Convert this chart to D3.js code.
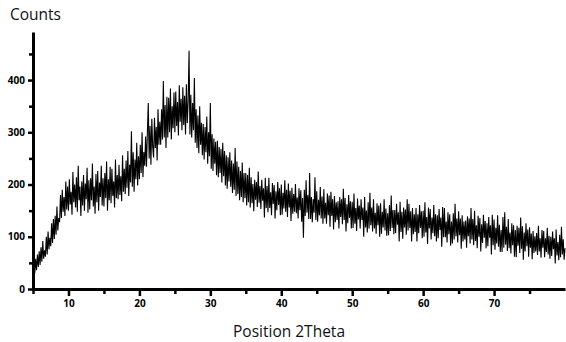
<!DOCTYPE html>
<html>
<head>
<meta charset="utf-8">
<script src="https://cdn.jsdelivr.net/npm/d3@7/dist/d3.min.js"></script>
<style>
  html, body { margin: 0; padding: 0; background: #fff; }
  svg { display: block; }
  .axis path, .axis line { stroke: #000; }
  .axis text { font-family: "Open Sans", sans-serif; font-weight: bold; font-size: 10px; fill: #000; }
  .title { font-family: "Open Sans", sans-serif; font-size: 15.5px; fill: #111; }
</style>
</head>
<body>
<div id="chart"></div>
<script>
const startAngle = 5.25;
const stepSize = 0.125;
const counts = [
  30, 58, 36, 66, 42, 72,                     // 5
  46, 80, 52, 92, 58, 74, 62, 100,            // 6
  66, 110, 76, 98, 82, 126, 88, 134,          // 7
  96, 140, 104, 158, 112, 136, 128, 180,      // 8
  136, 190, 148, 176, 140, 206, 152, 196,     // 9
  150, 210, 162, 186, 142, 224, 166, 200,     // 10
  156, 214, 148, 236, 170, 196, 140, 206,     // 11
  160, 218, 150, 202, 172, 232, 146, 208,     // 12
  152, 212, 170, 240, 158, 196, 144, 220,     // 13
  166, 226, 150, 204, 176, 236, 160, 212,     // 14
  158, 222, 174, 244, 150, 210, 170, 234,     // 15
  164, 230, 178, 206, 156, 248, 174, 218,     // 16
  172, 238, 180, 216, 168, 256, 186, 230,     // 17
  182, 246, 194, 264, 178, 238, 204, 302,     // 18
  196, 262, 186, 248, 210, 280, 198, 254,     // 19
  210, 276, 222, 300, 214, 262, 236, 292,     // 20
  234, 300, 356, 250, 312, 238, 326, 272,     // 21
  252, 328, 270, 310, 246, 344, 276, 320,     // 22
  276, 344, 286, 398, 290, 352, 270, 368,     // 23
  290, 366, 300, 384, 286, 350, 308, 376,     // 24
  300, 378, 312, 358, 294, 390, 320, 364,     // 25
  304, 386, 314, 370, 296, 392, 318, 360,     // 26
  456, 296, 372, 290, 356, 304, 404, 280,     // 27
  344, 270, 332, 260, 350, 276, 318, 256,     // 28
  316, 248, 310, 262, 330, 240, 300, 254,     // 29
  356, 230, 296, 226, 288, 240, 282, 218,     // 30
  284, 214, 272, 222, 268, 204, 280, 216,     // 31
  264, 198, 256, 192, 252, 206, 262, 196,     // 32
  246, 184, 240, 190, 270, 178, 244, 182,     // 33
  234, 170, 226, 176, 242, 166, 222, 174,     // 34
  222, 160, 218, 166, 232, 156, 214, 164,     // 35
  201, 149, 209, 171, 205, 157, 225, 165,     // 36
  197, 153, 209, 169, 193, 137, 213, 155,     // 37
  197, 147, 213, 155, 185, 141, 203, 163,     // 38
  199, 135, 187, 151, 205, 161, 193, 141,     // 39
  200, 142, 184, 154, 208, 148, 190, 138,     // 40
  202, 156, 188, 130, 194, 144, 182, 148,     // 41
  201, 145, 175, 135, 193, 151, 189, 129,     // 42
  174, 98, 190, 140, 208, 146, 180, 134,      // 43
  222, 134, 176, 128, 172, 146, 214, 132,     // 44
  187, 129, 171, 141, 195, 135, 177, 125,     // 45
  191, 135, 165, 125, 183, 141, 179, 119,     // 46
  186, 140, 172, 114, 178, 128, 166, 132,     // 47
  168, 116, 176, 138, 172, 124, 192, 132,     // 48
  174, 110, 162, 126, 180, 136, 168, 116,     // 49
  167, 117, 183, 125, 155, 111, 173, 133,     // 50
  160, 116, 172, 132, 156, 100, 176, 118,     // 51
  150, 108, 166, 116, 184, 122, 156, 110,     // 52
  172, 116, 146, 106, 164, 122, 160, 100,     // 53
  164, 106, 148, 118, 172, 112, 154, 102,     // 54
  145, 103, 161, 111, 179, 117, 151, 105,     // 55
  151, 107, 163, 123, 147, 91, 167, 109,      // 56
  148, 96, 156, 118, 152, 104, 172, 112,      // 57
  163, 117, 149, 91, 155, 105, 143, 109,      // 58
  155, 91, 143, 107, 161, 117, 149, 97,       // 59
  150, 100, 166, 108, 138, 86, 156, 116,      // 60
  153, 95, 137, 107, 161, 101, 143, 91,       // 61
  141, 97, 153, 113, 137, 81, 157, 99,        // 62
  155, 99, 129, 89, 147, 105, 143, 83,        // 63
  129, 87, 145, 95, 163, 101, 135, 89,        // 64
  149, 103, 135, 77, 141, 91, 129, 95,        // 65
  131, 79, 139, 101, 135, 87, 155, 95,        // 66
  134, 84, 150, 92, 122, 78, 140, 100,        // 67
  136, 72, 124, 88, 142, 98, 130, 78,         // 68
  126, 82, 138, 98, 122, 66, 142, 84,         // 69
  133, 75, 117, 87, 141, 81, 123, 71,         // 70
  113, 71, 138, 79, 147, 85, 119, 73,         // 71
  134, 78, 108, 68, 126, 84, 122, 62,         // 72
  113, 61, 121, 83, 117, 69, 137, 77,         // 73
  120, 56, 108, 72, 126, 82, 114, 62,         // 74
  118, 79, 106, 57, 111, 69, 101, 72,         // 75
  107, 65, 121, 72, 97, 60, 113, 79,          // 76
  111, 61, 97, 71, 117, 66, 102, 58,          // 77
  100, 63, 110, 76, 97, 49, 114, 64,          // 78
  90, 55, 104, 61, 119, 66, 95, 56,           // 79
  78                                          // 80
];
const xTicks = [10, 20, 30, 40, 50, 60, 70];
const xMinorTicks = [5, 15, 25, 35, 45, 55, 65, 75];
const yTicks = [0, 100, 200, 300, 400];
const yMinorTicks = [50, 150, 250, 350, 450];
const xTitle = 'Position 2Theta';
const yTitle = 'Counts';

const width = 566;
const height = 342;

const svg = d3.select('#chart')
  .append('svg')
  .attr('width', width)
  .attr('height', height);

const x = d3.scaleLinear().domain([5, 80]).range([33, 565]);
const y = d3.scaleLinear().domain([0, 492]).range([289, 32]);

const data = counts.map((c, i) => [startAngle + i * stepSize, c]);

// pattern
const line = d3.line()
  .x((d) => x(d[0]))
  .y((d) => y(d[1]));

svg.append('path')
  .datum(data)
  .attr('fill', 'none')
  .attr('stroke', '#000')
  .attr('stroke-width', 1.1)
  .attr('stroke-linejoin', 'bevel')
  .attr('d', line);

// minor ticks first, then the labelled axis on top
svg.append('g')
  .attr('class', 'axis')
  .attr('transform', 'translate(0,' + y(0) + ')')
  .call(d3.axisBottom(x).tickValues(xMinorTicks).tickSize(5).tickFormat(''))
  .call((g) => g.select('.domain').remove())
  .call((g) => g.selectAll('line').attr('stroke-width', 2.5));

svg.append('g')
  .attr('class', 'axis')
  .attr('transform', 'translate(' + x(5) + ',0)')
  .call(d3.axisLeft(y).tickValues(yMinorTicks).tickSize(4).tickFormat(''))
  .call((g) => g.select('.domain').remove())
  .call((g) => g.selectAll('line').attr('stroke-width', 2.5));

svg.append('g')
  .attr('class', 'axis')
  .attr('transform', 'translate(0,' + y(0) + ')')
  .call(d3.axisBottom(x).tickValues(xTicks).tickSize(7).tickSizeOuter(0).tickPadding(4))
  .call((g) => g.select('.domain').attr('stroke-width', 3))
  .call((g) => g.selectAll('line').attr('stroke-width', 2.5));

svg.append('g')
  .attr('class', 'axis')
  .attr('transform', 'translate(' + x(5) + ',0)')
  .call(d3.axisLeft(y).tickValues(yTicks).tickSize(5).tickSizeOuter(0).tickPadding(3))
  .call((g) => g.select('.domain').attr('stroke-width', 3))
  .call((g) => g.selectAll('line').attr('stroke-width', 2.5));

svg.append('text')
  .attr('class', 'title')
  .attr('x', 10)
  .attr('y', 20)
  .text(yTitle);

svg.append('text')
  .attr('class', 'title')
  .attr('x', 289)
  .attr('y', 337)
  .attr('text-anchor', 'middle')
  .text(xTitle);
</script>
</body>
</html>
